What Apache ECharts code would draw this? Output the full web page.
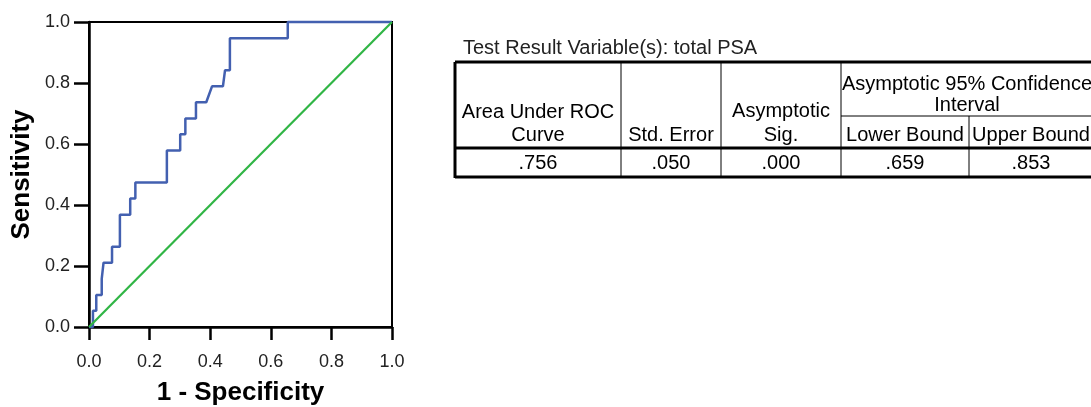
<!DOCTYPE html>
<html>
<head>
<meta charset="utf-8">
<script src="https://cdn.jsdelivr.net/npm/echarts@6/dist/echarts.min.js"></script>
<style>
  html, body { margin: 0; padding: 0; background: #fff; }
  #chart { width: 1091px; height: 407px; }
</style>
</head>
<body>
<div id="chart"></div>
<script>
// ROC curve vertices (1 - specificity, sensitivity)
var fprValues = [0, 0.013, 0.013, 0.024, 0.024, 0.042, 0.042, 0.048, 0.048, 0.076, 0.076,
    0.102, 0.102, 0.136, 0.136, 0.153, 0.153, 0.257, 0.257, 0.301, 0.301, 0.318, 0.318,
    0.353, 0.353, 0.387, 0.406, 0.442, 0.449, 0.465, 0.465, 0.656, 0.656, 1];
var tprValues = [0, 0, 0.053, 0.053, 0.105, 0.105, 0.158, 0.158, 0.211, 0.211, 0.263,
    0.263, 0.368, 0.368, 0.421, 0.421, 0.474, 0.474, 0.579, 0.579, 0.632, 0.632, 0.684,
    0.684, 0.737, 0.737, 0.789, 0.789, 0.842, 0.842, 0.947, 0.947, 1, 1];
var refX = [0, 1];
var refY = [0, 1];
var tickLabels = ['0.0', '0.2', '0.4', '0.6', '0.8', '1.0'];

// AUC table
var tableTitle = 'Test Result Variable(s): total PSA';
var tableValues = ['.756', '.050', '.000', '.659', '.853'];

var font = 'Liberation Sans, Arial, sans-serif';

function pairs(xs, ys) {
    return xs.map(function (x, i) { return [x, ys[i]]; });
}

var gChart = echarts.init(document.getElementById('chart'));

var txt = function (x, y, s, align) {
    return {
        type: 'text', x: x, y: y,
        style: { text: s, fill: '#000', font: '20px ' + font, align: align || 'center', verticalAlign: 'middle' }
    };
};
var ln = function (x1, y1, x2, y2, w) {
    return { type: 'line', shape: { x1: x1, y1: y1, x2: x2, y2: y2 }, style: { stroke: '#000', lineWidth: w } };
};

var option = {
    animation: false,
    backgroundColor: '#fff',
    grid: {
        left: 89, top: 22, width: 303, height: 305,
        outerBoundsMode: 'none', containLabel: false,
        show: true, borderColor: '#000', borderWidth: 2
    },
    xAxis: {
        type: 'value', min: 0, max: 1, interval: 0.2,
        name: '1 - Specificity', nameLocation: 'middle', nameGap: 53,
        nameTextStyle: { fontFamily: font, fontSize: 26, fontWeight: 'bold', color: '#000' },
        axisLine: { lineStyle: { color: '#000', width: 2.5 } },
        axisTick: { length: 13, lineStyle: { color: '#000', width: 2.5 } },
        axisLabel: {
            margin: 26, fontFamily: font, fontSize: 18, color: '#222',
            formatter: function (v) { return tickLabels[Math.round(v * 5)]; }
        },
        splitLine: { show: false }
    },
    yAxis: {
        type: 'value', min: 0, max: 1, interval: 0.2,
        name: 'Sensitivity', nameLocation: 'middle', nameGap: 54,
        nameTextStyle: { fontFamily: font, fontSize: 26, fontWeight: 'bold', color: '#000' },
        axisLine: { lineStyle: { color: '#000', width: 2.5 } },
        axisTick: { length: 15, lineStyle: { color: '#000', width: 2.5 } },
        axisLabel: {
            margin: 19, fontFamily: font, fontSize: 18, color: '#222',
            formatter: function (v) { return tickLabels[Math.round(v * 5)]; }
        },
        splitLine: { show: false }
    },
    series: [
        {
            name: 'ROC', type: 'line', data: pairs(fprValues, tprValues),
            showSymbol: false, clip: false,
            lineStyle: { color: '#4360B0', width: 2.5 }
        },
        {
            name: 'Reference', type: 'line', data: pairs(refX, refY),
            showSymbol: false, clip: false,
            lineStyle: { color: '#30B545', width: 2.2 }
        }
    ],
    graphic: [
        {
            type: 'text', x: 463, y: 48,
            style: { text: tableTitle, fill: '#222', font: '20px ' + font, align: 'left', verticalAlign: 'middle' }
        },
        // frame
        ln(455, 62, 1091, 62, 3),
        ln(455, 62, 455, 178, 3),
        ln(455, 177, 1091, 177, 3),
        ln(455, 148, 1091, 148, 3),
        ln(621, 62, 621, 177, 1),
        ln(721, 62, 721, 177, 1),
        ln(841, 62, 841, 177, 1),
        ln(969, 116, 969, 177, 1),
        ln(841, 116, 1091, 116, 1),
        ln(1092, 62, 1092, 177, 1),
        // header
        txt(538, 112, 'Area Under ROC'),
        txt(538, 135, 'Curve'),
        txt(671, 135, 'Std. Error'),
        txt(781, 111, 'Asymptotic'),
        txt(781, 135, 'Sig.'),
        txt(967, 84, 'Asymptotic 95% Confidence'),
        txt(967, 105, 'Interval'),
        txt(905, 135, 'Lower Bound'),
        txt(1031, 135, 'Upper Bound'),
        // values
        txt(538, 163, tableValues[0]),
        txt(671, 163, tableValues[1]),
        txt(781, 163, tableValues[2]),
        txt(905, 163, tableValues[3]),
        txt(1031, 163, tableValues[4])
    ]
};

gChart.setOption(option);
</script>
</body>
</html>
